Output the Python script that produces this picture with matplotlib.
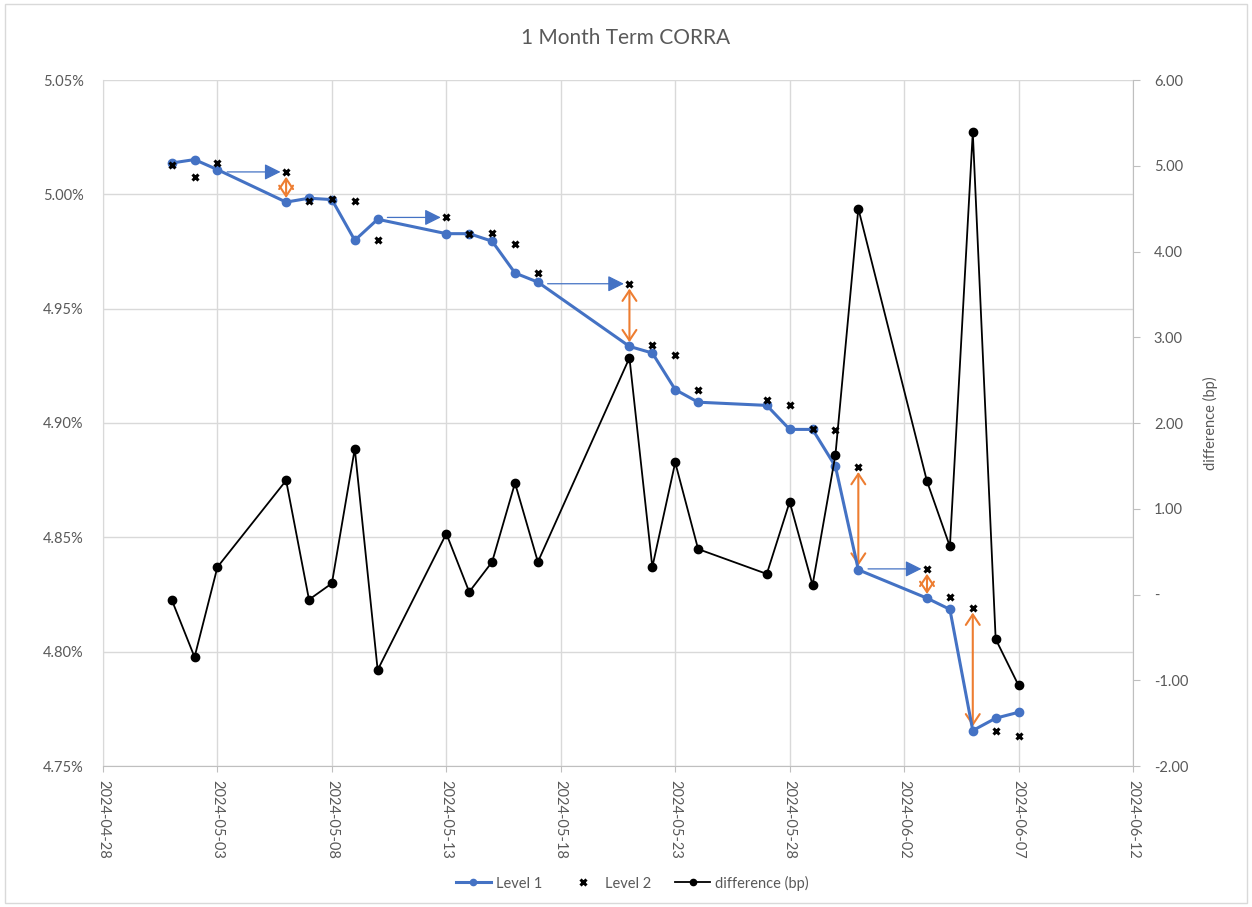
import matplotlib
matplotlib.use('Agg')
import matplotlib.pyplot as plt
import matplotlib.dates as mdates
import matplotlib.ticker as mticker
from matplotlib.patches import Rectangle
import pandas as pd

plt.rcParams['font.family'] = ['Lato', 'DejaVu Sans']

dates = pd.to_datetime([
    '2024-05-01', '2024-05-02', '2024-05-03', '2024-05-06', '2024-05-07',
    '2024-05-08', '2024-05-09', '2024-05-10', '2024-05-13', '2024-05-14',
    '2024-05-15', '2024-05-16', '2024-05-17', '2024-05-21', '2024-05-22',
    '2024-05-23', '2024-05-24', '2024-05-27', '2024-05-28', '2024-05-29',
    '2024-05-30', '2024-05-31', '2024-06-03', '2024-06-04', '2024-06-05',
    '2024-06-06', '2024-06-07'])
level1 = [5.0137, 5.0152, 5.0108, 4.9966, 4.9983, 4.9977, 4.9799, 4.9891, 4.9828,
          4.9828, 4.9795, 4.9656, 4.9616, 4.9335, 4.9306, 4.9146, 4.9091, 4.9077,
          4.8972, 4.8972, 4.8810, 4.8358, 4.8234, 4.8185, 4.7655, 4.7709, 4.7735]
level2 = [5.0127, 5.0076, 5.0139, 5.0098, 4.9969, 4.9979, 4.9969, 4.9802, 4.9899,
          4.9828, 4.9832, 4.9784, 4.9656, 4.9609, 4.9339, 4.9296, 4.9143, 4.9099,
          4.9080, 4.8972, 4.8968, 4.8807, 4.8362, 4.8238, 4.8192, 4.7653, 4.7630]
diff_bp = [-0.06, -0.73, 0.32, 1.33, -0.06, 0.13, 1.70, -0.88, 0.71, 0.03, 0.38,
           1.30, 0.38, 2.76, 0.32, 1.54, 0.53, 0.24, 1.08, 0.11, 1.63, 4.50, 1.32,
           0.56, 5.39, -0.52, -1.06]

# annotation arrows: blue = roll forward to next fixing, orange = gap level2 vs level1
roll_pairs = [('2024-05-03', '2024-05-06'), ('2024-05-10', '2024-05-13'),
              ('2024-05-17', '2024-05-21'), ('2024-05-31', '2024-06-03')]
gap_dates = ['2024-05-06', '2024-05-21', '2024-05-31', '2024-06-03', '2024-06-05']

blue = '#4472C4'
orange = '#ED7D31'
grey_txt = '#595959'
grid_c = '#D9D9D9'

fig = plt.figure(figsize=(12.52, 9.07), dpi=100)
ax = fig.add_axes([103/1252, 1-766/907, 1030/1252, 686/907])
ax2 = ax.twinx()

l1, = ax.plot(dates, level1, color=blue, lw=2.2, marker='o', ms=6, label='Level 1', zorder=3)
l2, = ax.plot(dates, level2, ls='none', marker='x', ms=5, mew=2.2, color='black',
              label='Level 2', zorder=4)
d, = ax2.plot(dates, diff_bp, color='black', lw=1.3, marker='o', ms=6, label='difference (bp)')

idx = {dt: i for i, dt in enumerate(dates.strftime('%Y-%m-%d'))}
for a, b in roll_pairs:
    y = level2[idx[b]]
    ax.annotate('', xy=(pd.Timestamp(b), y), xytext=(pd.Timestamp(a), y),
                arrowprops=dict(arrowstyle='-|>,head_length=0.7,head_width=0.35', color=blue,
                                lw=0.9, shrinkA=7, shrinkB=4, mutation_scale=14), zorder=2)
for g in gap_dates:
    i = idx[g]
    ax.annotate('', xy=(pd.Timestamp(g), level1[i]), xytext=(pd.Timestamp(g), level2[i]),
                arrowprops=dict(arrowstyle='<->,head_length=0.75,head_width=0.5', color=orange,
                                lw=1.5, shrinkA=3.5, shrinkB=3, mutation_scale=10), zorder=2)

ax.set_xlim(pd.Timestamp('2024-04-28'), pd.Timestamp('2024-06-12'))
ax.xaxis.set_major_locator(mticker.FixedLocator(
    mdates.date2num(pd.date_range('2024-04-28', '2024-06-12', freq='5D'))))
ax.xaxis.set_major_formatter(mdates.DateFormatter('%Y-%m-%d'))
ax.set_ylim(4.75, 5.05)
ax.set_yticks([4.75, 4.80, 4.85, 4.90, 4.95, 5.00, 5.05])
ax.yaxis.set_major_formatter(mticker.FuncFormatter(lambda v, p: f'{v:.2f}%'))
ax2.set_ylim(-2, 6)
ax2.set_yticks(range(-2, 7))
ax2.yaxis.set_major_formatter(mticker.FuncFormatter(
    lambda v, p: '-' if abs(v) < 1e-9 else f'{v:.2f}'))

ax.grid(True, color=grid_c, lw=1)
ax.set_axisbelow(True)
for a in (ax, ax2):
    for s in a.spines.values():
        s.set_visible(False)
ax.spines['left'].set_visible(True)
ax.spines['left'].set_color(grid_c)
ax.spines['bottom'].set_visible(True)
ax.spines['bottom'].set_color('#BFBFBF')
ax2.spines['right'].set_visible(True)
ax2.spines['right'].set_color('#BFBFBF')

ax.tick_params(axis='x', colors='#BFBFBF', labelcolor=grey_txt, labelsize=10.5,
               length=4, labelrotation=-90, pad=6)
ax.tick_params(axis='y', length=0, labelcolor=grey_txt, labelsize=10.5, pad=14)
ax2.tick_params(axis='y', colors='#BFBFBF', labelcolor=grey_txt, labelsize=10.5,
                length=5, pad=10)
for t in ax.get_xticklabels():
    t.set_va('top')
    t.set_ha('center')

ax2.set_ylabel('difference (bp)', color=grey_txt, fontsize=10.5)
ax2.yaxis.set_label_coords(1.068, 0.5)

fig.text(0.5, 1-38/907, '1 Month Term CORRA', ha='center', va='center',
         fontsize=15, color=grey_txt)
fig.legend(handles=[l1, l2, d], loc='center', bbox_to_anchor=(0.505, 1-883/907), ncol=3,
           frameon=False, fontsize=10.5, labelcolor=grey_txt, handlelength=2.4,
           columnspacing=1.6, handletextpad=0.35, markerscale=0.75)

fig.patches.append(Rectangle((0.004, 0.004), 0.992, 0.992, transform=fig.transFigure,
                             fill=False, edgecolor=grid_c, lw=1))
fig.savefig('out.png', dpi=100)
